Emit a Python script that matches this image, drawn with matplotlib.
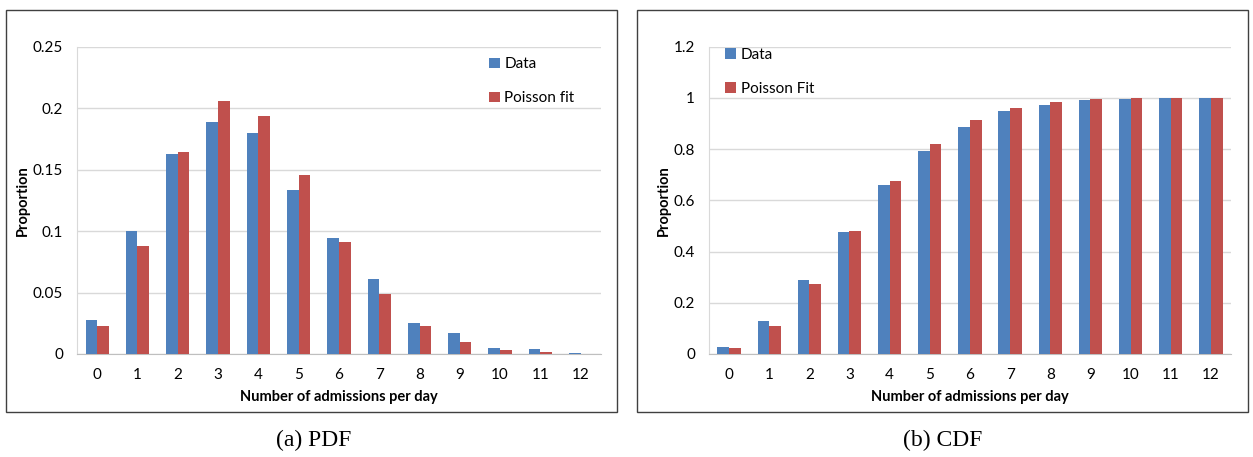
import numpy as np
import matplotlib
matplotlib.use("Agg")
import matplotlib.pyplot as plt
from matplotlib.patches import Rectangle

categories = [str(i) for i in range(13)]

pdf_data = [0.0275, 0.100, 0.1625, 0.189, 0.1795, 0.133, 0.0945, 0.061, 0.0255, 0.017, 0.0045, 0.004, 0.0008]
pdf_fit = [0.023, 0.0875, 0.1645, 0.206, 0.194, 0.1455, 0.0915, 0.049, 0.023, 0.0095, 0.0035, 0.0013, 0.0004]

cdf_data = [0.028, 0.127, 0.289, 0.478, 0.658, 0.792, 0.886, 0.947, 0.974, 0.990, 0.995, 0.999, 1.0]
cdf_fit = [0.023, 0.111, 0.275, 0.481, 0.675, 0.821, 0.912, 0.961, 0.985, 0.995, 0.998, 1.0, 1.0]

BLUE = '#4F81BD'
RED = '#C0504D'
FONT = ['Lato', 'DejaVu Sans']


def draw_panel(ax, data, fit, yticks, ylabels, fit_name, legend_anchor, ylabel_x):
    x = np.arange(len(categories))
    w = 0.29
    ax.bar(x - w / 2, data, w, color=BLUE, label='Data', zorder=3)
    ax.bar(x + w / 2, fit, w, color=RED, label=fit_name, zorder=3)

    ax.set_xlim(-0.5, len(categories) - 0.5)
    ax.set_ylim(0, yticks[-1])
    ax.set_xticks(x)
    ax.set_xticklabels(categories, fontsize=11, family=FONT)
    ax.set_yticks(yticks)
    ax.set_yticklabels(ylabels, fontsize=11, family=FONT)
    ax.tick_params(length=0, pad=10)
    ax.tick_params(axis='y', pad=10)

    ax.grid(axis='y', color='#D9D9D9', linewidth=1, zorder=0)
    for s in ['top', 'right']:
        ax.spines[s].set_visible(False)
    ax.spines['left'].set_color('#D9D9D9')
    ax.spines['bottom'].set_color('#BFBFBF')

    ax.set_xlabel('Number of admissions per day', fontsize=10.5,
                  fontweight='bold', family=FONT, labelpad=6)
    ax.set_ylabel('Proportion', fontsize=10.5, fontweight='bold', family=FONT)
    ax.yaxis.set_label_coords(ylabel_x, 0.5)

    ax.legend(loc='upper left', bbox_to_anchor=legend_anchor, frameon=False,
              prop={'family': FONT, 'size': 11}, handlelength=0.7,
              handleheight=0.7, handletextpad=0.3, labelspacing=1.3)


fig = plt.figure(figsize=(12.53, 4.57), dpi=100)

ax1 = fig.add_axes([0.0615, 0.2254, 0.418, 0.6725])
draw_panel(ax1, pdf_data, pdf_fit,
           [0, 0.05, 0.1, 0.15, 0.2, 0.25],
           ['0', '0.05', '0.1', '0.15', '0.2', '0.25'],
           'Poisson fit', (0.76, 1.01), -0.09)

ax2 = fig.add_axes([0.5658, 0.2254, 0.4166, 0.6725])
draw_panel(ax2, cdf_data, cdf_fit,
           [0, 0.2, 0.4, 0.6, 0.8, 1.0, 1.2],
           ['0', '0.2', '0.4', '0.6', '0.8', '1', '1.2'],
           'Poisson Fit', (0.005, 1.04), -0.072)

# panel frames
for x0 in [0.0048, 0.5084]:
    fig.patches.append(Rectangle((x0, 0.0985), 0.4876, 0.8796,
                                 transform=fig.transFigure, fill=False,
                                 edgecolor='#404040', linewidth=1))

fig.text(0.25, 0.037, '(a) PDF', ha='center', va='center',
         fontsize=17, family='Liberation Serif')
fig.text(0.752, 0.037, '(b) CDF', ha='center', va='center',
         fontsize=17, family='Liberation Serif')

fig.savefig('out.png', dpi=100)
